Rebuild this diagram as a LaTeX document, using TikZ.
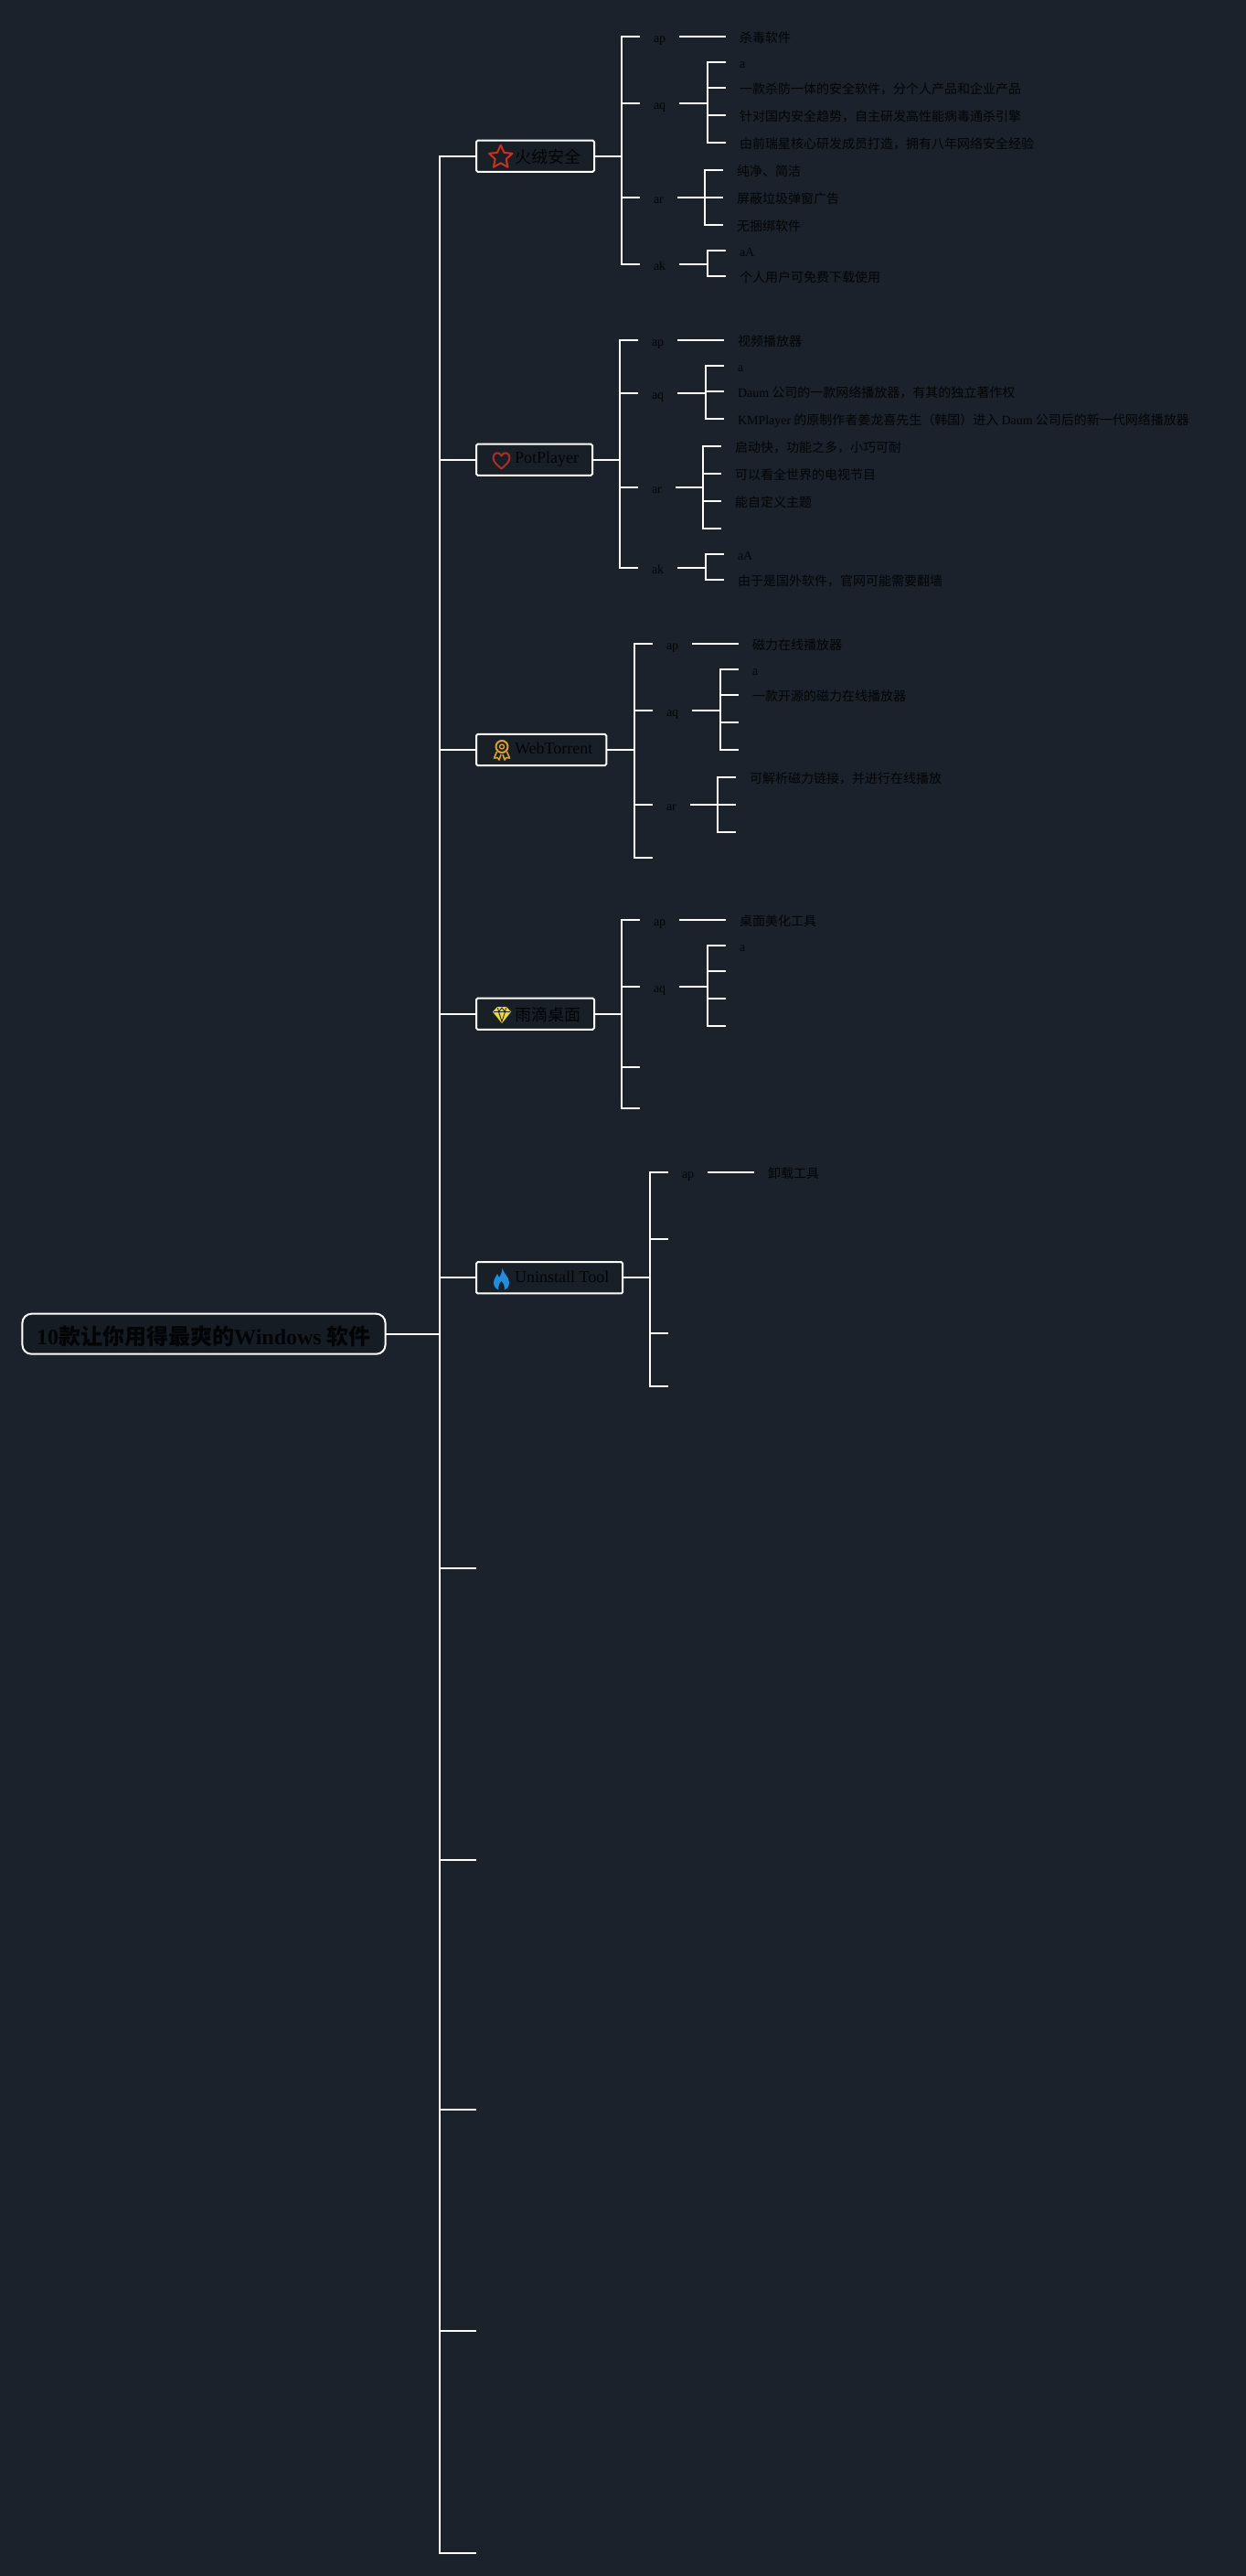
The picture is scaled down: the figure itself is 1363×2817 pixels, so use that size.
\documentclass[tikz,border=0pt]{standalone}
\usepackage{fontspec}
\setmainfont{Liberation Serif}
\newfontfamily\cjk{Noto Sans CJK SC}
\usetikzlibrary{shapes.geometric}

\definecolor{bgcol}{HTML}{1B222B}
\definecolor{boxcol}{HTML}{191F27}
\definecolor{rootcol}{HTML}{161C24}
\definecolor{inkcol}{HTML}{030406}
\definecolor{starcol}{HTML}{C8321E}
\definecolor{heartcol}{HTML}{B62B20}
\definecolor{badgecol}{HTML}{DDA320}
\definecolor{gemcol}{HTML}{ECD92A}
\definecolor{flamecol}{HTML}{1C90DD}

\newcommand{\lat}[1]{{\rmfamily #1}}

\tikzset{
  link/.style={draw=white, line width=1.7pt},
  rootbox/.style={draw=white, fill=rootcol, line width=1.5pt, rounded corners=7.5pt, text=inkcol,
    font=\fontsize{18}{20}\selectfont\bfseries, inner xsep=11.8pt, inner ysep=0pt, minimum height=33pt, outer sep=0pt,
    text height=17pt, text depth=0pt},
  topic/.style={draw=white, fill=boxcol, line width=1.5pt, rounded corners=1.2pt, text=inkcol, anchor=west,
    font=\fontsize{13.5}{15}\selectfont, inner xsep=11.25pt, inner ysep=0pt, minimum height=25.7pt, outer sep=0pt,
    text height=12pt, text depth=0pt, execute at begin node=\hspace*{20.25pt}},
  tag/.style={text=inkcol, anchor=west, font=\fontsize{10.5}{12}\selectfont, inner xsep=11.25pt, inner ysep=0pt,
    outer sep=0pt, text height=10.5pt, text depth=0.5pt},
  leaf/.style={tag, font=\fontsize{10.5}{12}\selectfont\cjk},
  icon/.style={line width=1.5pt, line join=round}
}

\begin{document}
\begin{tikzpicture}[x=0.75pt, y=-0.75pt]
% Background
\fill[bgcol] (0,0) rectangle (1363,2817);
\useasboundingbox (0,0) rectangle (1363,2817);

% Root
\node[rootbox] (root) at (223,1458.7) {10{\cjk 款让你用得最爽的}Windows {\cjk 软件}};

% Topics
\node[topic] (fire) at (521,170.7) {{\cjk 火绒安全}};
\node[topic] (pot) at (521,502.7) {\raisebox{3pt}{PotPlayer}};
\node[topic] (web) at (521,820) {\raisebox{3pt}{WebTorrent}};
\node[topic] (rain) at (521,1108.7) {{\cjk 雨滴桌面}};
\node[topic] (tool) at (521,1397.3) {\raisebox{2pt}{Uninstall Tool}};

% Spine
\coordinate (spine) at (481.3,0);
\coordinate (stubf) at (521,1714.7);
\coordinate (stubg) at (521,2033.8);
\coordinate (stubh) at (521,2306.8);
\coordinate (stubi) at (521,2549.3);
\coordinate (stubj) at (521,2792);
\draw[link] (fire.west) -- (spine |- fire.west) -- (spine |- stubj) -- (stubj);
\draw[link] (root.east) -- (spine |- root.east);
\foreach \n in {pot,web,rain,tool} \draw[link] (spine |- \n.west) -- (\n.west);
\foreach \n in {stubf,stubg,stubh,stubi} \draw[link] (spine |- \n) -- (\n);

% Fire
\coordinate (firebar) at (680,0);
\coordinate (fireqbar) at (774,0);
\coordinate (firerbar) at (771,0);
\coordinate (firekbar) at (774,0);
\node[tag] (fireap) at (700,40) {ap};
\node[tag] (fireaq) at (700,113) {aq};
\node[tag] (firear) at (700,216) {ar};
\node[tag] (fireak) at (700,288.7) {ak};
\node[leaf] (firep1) at (794,40) {杀毒软件};
\node[leaf] (fireq1) at (794,67.7) {\lat{a}};
\node[leaf] (fireq2) at (794,95.7) {一款杀防一体的安全软件，分个人产品和企业产品};
\node[leaf] (fireq3) at (794,126) {针对国内安全趋势，自主研发高性能病毒通杀引擎};
\node[leaf] (fireq4) at (794,155.7) {由前瑞星核心研发成员打造，拥有八年网络安全经验};
\node[leaf] (firer1) at (791,185.7) {纯净、简洁};
\node[leaf] (firer2) at (791,216) {屏蔽垃圾弹窗广告};
\node[leaf] (firer3) at (791,246) {无捆绑软件};
\node[leaf] (firek1) at (794,273.7) {\lat{aA}};
\node[leaf] (firek2) at (794,301.7) {个人用户可免费下载使用};
\draw[link] (fire.east) -- (firebar |- fire.east);
\draw[link] (fireap.west) -- (firebar |- fireap.west) -- (firebar |- fireak.west) -- (fireak.west);
\foreach \n in {fireaq,firear} \draw[link] (firebar |- \n.west) -- (\n.west);
\draw[link] (fireap.east) -- (firep1.west);
\draw[link] (fireaq.east) -- (fireqbar |- fireaq.east);
\draw[link] (fireq1.west) -- (fireqbar |- fireq1.west) -- (fireqbar |- fireq4.west) -- (fireq4.west);
\foreach \n in {fireq2,fireq3} \draw[link] (fireqbar |- \n.west) -- (\n.west);
\draw[link] (firear.east) -- (firerbar |- firear.east);
\draw[link] (firer1.west) -- (firerbar |- firer1.west) -- (firerbar |- firer3.west) -- (firer3.west);
\draw[link] (firerbar |- firer2.west) -- (firer2.west);
\draw[link] (fireak.east) -- (firekbar |- fireak.east);
\draw[link] (firek1.west) -- (firekbar |- firek1.west) -- (firekbar |- firek2.west) -- (firek2.west);

% Pot
\coordinate (potbar) at (678,0);
\coordinate (potqbar) at (772,0);
\coordinate (potrbar) at (769,0);
\coordinate (potkbar) at (772,0);
\coordinate (potr4) at (789,577.7);
\node[tag] (potap) at (698,371.7) {ap};
\node[tag] (potaq) at (698,429.7) {aq};
\node[tag] (potar) at (698,532.7) {ar};
\node[tag] (potak) at (698,621) {ak};
\node[leaf] (potp1) at (792,371.7) {视频播放器};
\node[leaf] (potq1) at (792,400) {\lat{a}};
\node[leaf] (potq2) at (792,427.7) {\lat{Daum} 公司的一款网络播放器，有其的独立著作权};
\node[leaf] (potq3) at (792,457.7) {\lat{KMPlayer} 的原制作者姜龙喜先生（韩国）进入 \lat{Daum} 公司后的新一代网络播放器};
\node[leaf] (potr1) at (789,487.7) {启动快，功能之多，小巧可耐};
\node[leaf] (potr2) at (789,518) {可以看全世界的电视节目};
\node[leaf] (potr3) at (789,547.7) {能自定义主题};
\node[leaf] (potk1) at (792,606) {\lat{aA}};
\node[leaf] (potk2) at (792,634) {由于是国外软件，官网可能需要翻墙};
\draw[link] (pot.east) -- (potbar |- pot.east);
\draw[link] (potap.west) -- (potbar |- potap.west) -- (potbar |- potak.west) -- (potak.west);
\foreach \n in {potaq,potar} \draw[link] (potbar |- \n.west) -- (\n.west);
\draw[link] (potap.east) -- (potp1.west);
\draw[link] (potaq.east) -- (potqbar |- potaq.east);
\draw[link] (potq1.west) -- (potqbar |- potq1.west) -- (potqbar |- potq3.west) -- (potq3.west);
\draw[link] (potqbar |- potq2.west) -- (potq2.west);
\draw[link] (potar.east) -- (potrbar |- potar.east);
\draw[link] (potr1.west) -- (potrbar |- potr1.west) -- (potrbar |- potr4) -- (potr4);
\foreach \n in {potr2,potr3} \draw[link] (potrbar |- \n.west) -- (\n.west);
\draw[link] (potak.east) -- (potkbar |- potak.east);
\draw[link] (potk1.west) -- (potkbar |- potk1.west) -- (potkbar |- potk2.west) -- (potk2.west);

% Web
\coordinate (webbar) at (694,0);
\coordinate (webqbar) at (788,0);
\coordinate (webrbar) at (785,0);
\coordinate (webs) at (714,938);
\coordinate (webq3) at (808,789.7);
\coordinate (webq4) at (808,820);
\coordinate (webr2) at (805,880);
\coordinate (webr3) at (805,910);
\node[tag] (webap) at (714,704) {ap};
\node[tag] (webaq) at (714,777) {aq};
\node[tag] (webar) at (714,880) {ar};
\node[leaf] (webp1) at (808,704) {磁力在线播放器};
\node[leaf] (webq1) at (808,732) {\lat{a}};
\node[leaf] (webq2) at (808,760) {一款开源的磁力在线播放器};
\node[leaf] (webr1) at (805,850) {可解析磁力链接，并进行在线播放};
\draw[link] (web.east) -- (webbar |- web.east);
\draw[link] (webap.west) -- (webbar |- webap.west) -- (webbar |- webs) -- (webs);
\foreach \n in {webaq,webar} \draw[link] (webbar |- \n.west) -- (\n.west);
\draw[link] (webap.east) -- (webp1.west);
\draw[link] (webaq.east) -- (webqbar |- webaq.east);
\draw[link] (webq1.west) -- (webqbar |- webq1.west) -- (webqbar |- webq4) -- (webq4);
\draw[link] (webqbar |- webq2.west) -- (webq2.west);
\draw[link] (webqbar |- webq3) -- (webq3);
\draw[link] (webar.east) -- (webrbar |- webar.east);
\draw[link] (webr1.west) -- (webrbar |- webr1.west) -- (webrbar |- webr3) -- (webr3);
\draw[link] (webrbar |- webr2) -- (webr2);

% Rain
\coordinate (rainbar) at (680,0);
\coordinate (rainqbar) at (774,0);
\coordinate (rains) at (700,1167);
\coordinate (raint) at (700,1211.7);
\coordinate (rainq2) at (794,1061.7);
\coordinate (rainq3) at (794,1092);
\coordinate (rainq4) at (794,1122);
\node[tag] (rainap) at (700,1005.7) {ap};
\node[tag] (rainaq) at (700,1079) {aq};
\node[leaf] (rainp1) at (794,1005.7) {桌面美化工具};
\node[leaf] (rainq1) at (794,1033.7) {\lat{a}};
\draw[link] (rain.east) -- (rainbar |- rain.east);
\draw[link] (rainap.west) -- (rainbar |- rainap.west) -- (rainbar |- raint) -- (raint);
\draw[link] (rainbar |- rainaq.west) -- (rainaq.west);
\draw[link] (rainbar |- rains) -- (rains);
\draw[link] (rainap.east) -- (rainp1.west);
\draw[link] (rainaq.east) -- (rainqbar |- rainaq.east);
\draw[link] (rainq1.west) -- (rainqbar |- rainq1.west) -- (rainqbar |- rainq4) -- (rainq4);
\foreach \n in {rainq2,rainq3} \draw[link] (rainqbar |- \n) -- (\n);

% Tool
\coordinate (toolbar) at (711,0);
\coordinate (tools) at (731,1355);
\coordinate (toolt) at (731,1458);
\coordinate (toolu) at (731,1516);
\node[tag] (toolap) at (731,1281.7) {ap};
\node[leaf] (toolp1) at (825,1281.7) {卸载工具};
\draw[link] (tool.east) -- (toolbar |- tool.east);
\draw[link] (toolap.west) -- (toolbar |- toolap.west) -- (toolbar |- toolu) -- (toolu);
\foreach \n in {tools,toolt} \draw[link] (toolbar |- \n) -- (\n);
\draw[link] (toolap.east) -- (toolp1.west);

% Icons
\node[star, star points=5, star point ratio=2.1, draw=starcol, icon, minimum size=20pt, inner sep=0pt] (firestar) at (547.7,172) {};
\draw[heartcol, icon] (548.5,512.5) .. controls (543,508) and (539.5,504.5) .. (539.5,500.5)
  .. controls (539.5,494.5) and (546.5,493.5) .. (548.5,498.5)
  .. controls (550.5,493.5) and (557.5,494.5) .. (557.5,500.5)
  .. controls (557.5,504.5) and (554,508) .. (548.5,512.5) -- cycle;
\draw[badgecol, icon] (549,816.5) circle (6.5);
\draw[badgecol, line width=1pt] (549,816.5) circle (2.5);
\draw[badgecol, line width=1.2pt, line join=round] (543.5,822) -- (540.5,829) -- (544,828.5) -- (546,831) -- (548,825);
\draw[badgecol, line width=1.2pt, line join=round] (554.5,822) -- (557.5,829) -- (554,828.5) -- (552,831) -- (550,825);
\fill[gemcol] (544,1101) -- (554,1101) -- (559,1106.5) -- (549,1119) -- (539,1106.5) -- cycle;
\draw[boxcol, line width=0.6pt] (540,1106.5) -- (558,1106.5)
  (545.5,1106.5) -- (549,1117) -- (552.5,1106.5)
  (544.5,1102) -- (545.5,1106.5) -- (549,1102) -- (552.5,1106.5) -- (553.5,1102);
\fill[flamecol] (549.5,1387) .. controls (551,1393) and (557,1396) .. (557,1403)
  .. controls (557,1408) and (553,1411) .. (548.5,1411)
  .. controls (544,1411) and (540,1408) .. (540,1403)
  .. controls (540,1398) and (543,1396) .. (544,1393)
  .. controls (545,1395) and (545.5,1396) .. (546,1397)
  .. controls (548,1394) and (549.5,1390) .. (549.5,1387) -- cycle;
\fill[boxcol] (548.5,1401) .. controls (546,1404) and (544.5,1407) .. (545.5,1411)
  -- (551.5,1411) .. controls (552.5,1407) and (551,1404) .. (548.5,1401) -- cycle;
\end{tikzpicture}
\end{document}
